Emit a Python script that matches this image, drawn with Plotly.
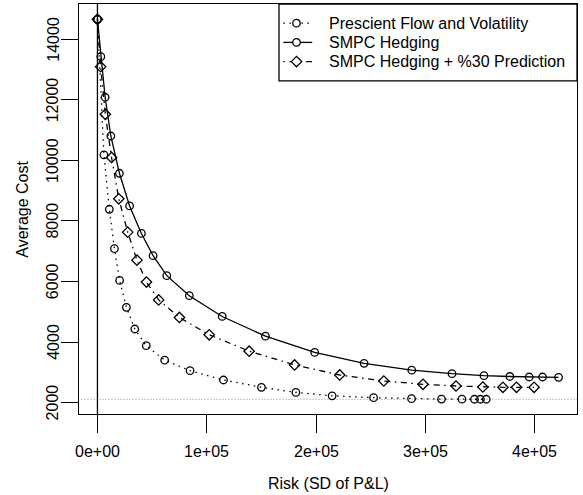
import plotly.graph_objects as go

# Risk (SD of P&L) and average cost for each hedging strategy
prescient_risk = [0, 5936, 10868, 15525, 20274, 26484, 34155, 44658, 61461, 84658,
                  115251, 149954, 181461, 214612, 252511, 287215, 314612, 333333,
                  344749, 350228, 355525]
prescient_cost = [14650, 10174, 8382, 7082, 6033, 5148, 4432, 3881, 3403, 3056,
                  2749, 2508, 2340, 2228, 2165, 2132, 2119, 2115, 2114, 2114, 2114]

smpc_risk = [0, 3105, 7032, 12237, 20091, 29406, 40183, 50868, 63379, 84018,
             114064, 153607, 198630, 243836, 287397, 324201, 353425, 377078,
             394795, 407032, 421644]
smpc_cost = [14650, 13418, 12078, 10800, 9570, 8491, 7584, 6851, 6191, 5531,
             4845, 4195, 3660, 3300, 3072, 2957, 2891, 2865, 2848, 2848, 2838]

pred_risk = [0, 2922, 7215, 12877, 19543, 27671, 36164, 44840, 55982, 74977,
             102192, 138721, 180274, 221553, 261826, 297717, 327854, 352420,
             370776, 383196, 399269]
pred_cost = [14650, 13088, 11517, 10092, 8729, 7627, 6703, 5980, 5392, 4812,
             4241, 3700, 3244, 2914, 2716, 2607, 2551, 2518, 2508, 2508, 2508]

floor_cost = 2112

x_ticks = [0, 100000, 200000, 300000, 400000]
x_tick_text = ["0e+00", "1e+05", "2e+05", "3e+05", "4e+05"]
y_ticks = [2000, 4000, 6000, 8000, 10000, 12000, 14000]
y_tick_text = ["2000", "4000", "6000", "8000", "10000", "12000", "14000"]

series_names = ["Prescient Flow and Volatility", "SMPC Hedging",
                "SMPC Hedging + %30 Prediction"]

FONT = "Liberation Sans, Arial, Helvetica, sans-serif"
W, H = 583, 495
ML, MR, MT, MB = 79, 6, 4, 81
PW, PH = W - ML - MR, H - MT - MB
LW = 1.3

DOT = "1.5px,4.5px"
DOTDASH = "1.5px,4.5px,6px,4.5px"

styles = [
    dict(dash=DOT, symbol="circle-open", size=7.5),
    dict(dash="solid", symbol="circle-open", size=7.5),
    dict(dash=DOTDASH, symbol="diamond-open", size=8),
]


def px_x(p):
    return (p - ML) / PW


def px_y(p):
    return (H - MB - p) / PH


fig = go.Figure()

for name, xs, ys, st in zip(series_names,
                            [prescient_risk, smpc_risk, pred_risk],
                            [prescient_cost, smpc_cost, pred_cost], styles):
    fig.add_trace(go.Scatter(
        x=xs, y=ys, mode="lines+markers", name=name, showlegend=False,
        line=dict(color="black", width=LW, dash=st["dash"]),
        marker=dict(symbol=st["symbol"], size=st["size"], color="black",
                    line=dict(width=LW, color="black")),
    ))

# reference lines: zero risk and the cost floor
fig.add_shape(type="line", xref="x", yref="paper", x0=0, x1=0, y0=0, y1=1,
              line=dict(color="black", width=LW), layer="below")
fig.add_shape(type="line", xref="paper", yref="y", x0=0.005, x1=1,
              y0=floor_cost, y1=floor_cost,
              line=dict(color="#8a8a8a", width=1, dash="1px,2px"), layer="below")

# legend box in the top-right corner, base-graphics style
leg_left, leg_top, row_h = 279, 4, 19.2
seg_x0, seg_x1, sym_x, text_x = 283.4, 312.2, 296.5, 326.6
fig.add_shape(type="rect", xref="paper", yref="paper",
              x0=px_x(leg_left), x1=1, y0=px_y(leg_top + 4 * row_h), y1=1,
              line=dict(color="black", width=LW), fillcolor="white")
for i, (name, st) in enumerate(zip(series_names, styles)):
    yc = leg_top + (i + 1) * row_h
    fig.add_shape(type="line", xref="paper", yref="paper",
                  x0=px_x(seg_x0), x1=px_x(seg_x1), y0=px_y(yc), y1=px_y(yc),
                  line=dict(color="black", width=LW, dash=st["dash"]))
    if st["symbol"] == "circle-open":
        r = st["size"] / 2
        fig.add_shape(type="circle", xref="paper", yref="paper",
                      x0=px_x(sym_x - r), x1=px_x(sym_x + r),
                      y0=px_y(yc + r), y1=px_y(yc - r),
                      line=dict(color="black", width=LW), fillcolor="white")
    else:
        r = st["size"] / 2 * 1.3
        path = "M {a},{b} L {c},{d} L {e},{f} L {g},{h} Z".format(
            a=px_x(sym_x - r), b=px_y(yc), c=px_x(sym_x), d=px_y(yc - r),
            e=px_x(sym_x + r), f=px_y(yc), g=px_x(sym_x), h=px_y(yc + r))
        fig.add_shape(type="path", xref="paper", yref="paper", path=path,
                      line=dict(color="black", width=LW), fillcolor="white")
    fig.add_annotation(text=name, xref="paper", yref="paper",
                       x=px_x(text_x), y=px_y(yc), xanchor="left",
                       yanchor="middle", showarrow=False,
                       font=dict(size=16, color="black", family=FONT))

# tick labels
for v, t in zip(x_ticks, x_tick_text):
    fig.add_annotation(text=t, xref="x", yref="paper", x=v, y=0, yshift=-37,
                       xanchor="center", yanchor="middle", showarrow=False,
                       font=dict(size=16, color="black", family=FONT))
for v, t in zip(y_ticks, y_tick_text):
    fig.add_annotation(text=t, xref="paper", yref="y", x=0, y=v, xshift=-26.3,
                       xanchor="center", yanchor="middle", textangle=-90,
                       showarrow=False,
                       font=dict(size=16, color="black", family=FONT))

# axis titles
fig.add_annotation(text="Risk (SD of P&L)", xref="paper", yref="paper",
                   x=0.5, y=0, yshift=-69, xanchor="center", yanchor="middle",
                   showarrow=False, font=dict(size=16, color="black", family=FONT))
fig.add_annotation(text="Average Cost", xref="paper", yref="paper",
                   x=0, y=0.5, xshift=-57.3, xanchor="center", yanchor="middle",
                   textangle=-90, showarrow=False,
                   font=dict(size=16, color="black", family=FONT))

fig.update_layout(
    width=W, height=H,
    margin=dict(l=ML, r=MR, t=MT, b=MB),
    paper_bgcolor="white", plot_bgcolor="white",
    font=dict(family=FONT, size=16, color="black"),
    showlegend=False,
    xaxis=dict(range=[-16866, 438510], tickvals=x_ticks, showticklabels=False,
               showgrid=False, zeroline=False, showline=True, linecolor="black",
               linewidth=LW, mirror=True, ticks="outside", ticklen=18,
               tickwidth=LW, tickcolor="black"),
    yaxis=dict(range=[1627, 15155], tickvals=y_ticks, showticklabels=False,
               showgrid=False, zeroline=False, showline=True, linecolor="black",
               linewidth=LW, mirror=True, ticks="outside", ticklen=17,
               tickwidth=LW, tickcolor="black"),
)

fig.write_html("out.html")
